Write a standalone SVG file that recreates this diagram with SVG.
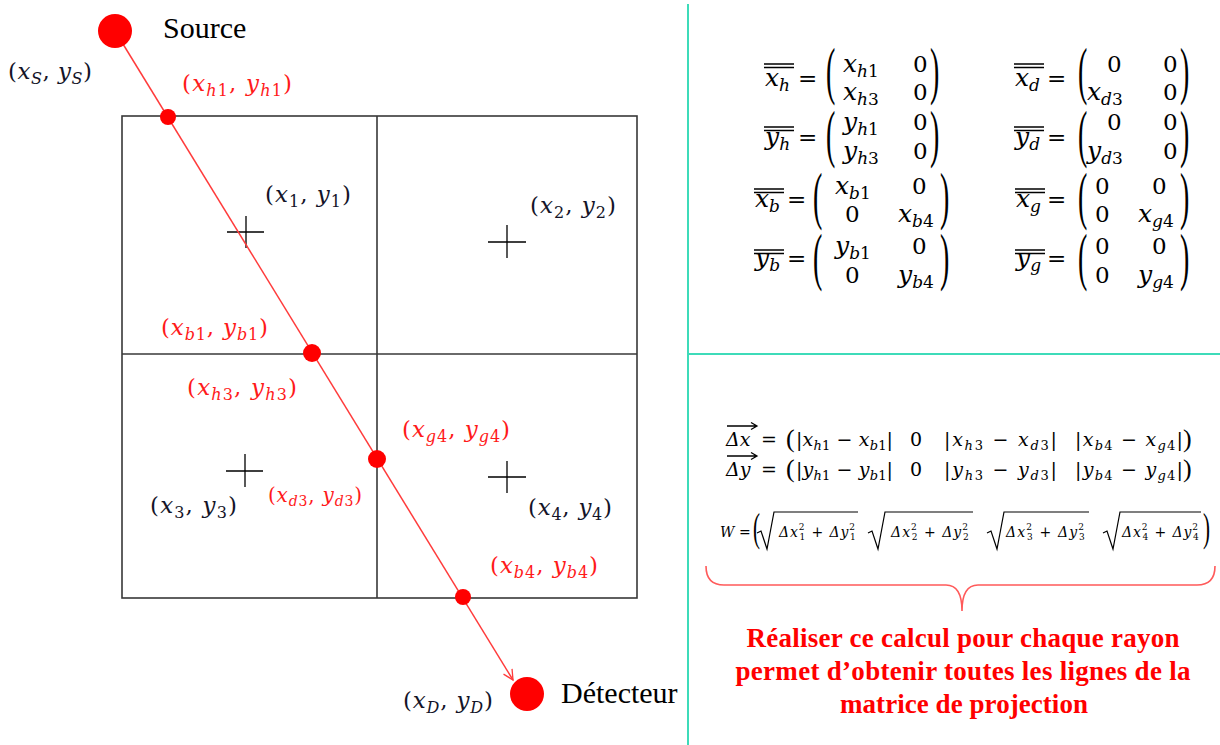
<svg xmlns="http://www.w3.org/2000/svg" width="1220" height="745" viewBox="0 0 1220 745">
<defs>
<style>
.m{font-family:"DejaVu Serif",serif;font-style:italic;font-size:23px}
.sb{font-size:16px}
.blk{fill:#141428}
.red{fill:#ff1a1a}
.mm{font-family:"DejaVu Serif",serif;font-style:italic;font-size:25px;fill:#000}
.ms{font-size:17px}
.mu{font-family:"DejaVu Serif",serif;font-size:23px;fill:#000}
.bp{font-family:"Liberation Serif",serif;font-size:28px;fill:#000}
.bar{stroke:#000;stroke-width:1.3;fill:none}
.d{font-family:"DejaVu Serif",serif;font-style:italic;font-size:19px;fill:#000}
.ds{font-size:13px}
.w{font-family:"DejaVu Serif",serif;font-style:italic;font-size:14px;fill:#000}
.sup{font-size:9px;font-style:normal}
.rad{stroke:#000;stroke-width:1.2;fill:none}
.grid{stroke:#383838;stroke-width:1.6;fill:none}
.cross{stroke:#000;stroke-width:1.3;fill:none}
.dot{fill:#ff0000}
.lbl{font-family:"Liberation Serif",serif;font-size:30px;fill:#000}
.note{font-family:"Liberation Serif",serif;font-weight:bold;font-size:27px;fill:#ff0000}
.sep{stroke:#3ddbb9;stroke-width:2;fill:none}
.u{font-style:normal}
</style>
<marker id="arr" markerUnits="userSpaceOnUse" markerWidth="14" markerHeight="14" refX="11" refY="6" orient="auto">
<path d="M1,1 L11,6 L1,11" fill="none" stroke="#ff3b3b" stroke-width="1.3"/>
</marker>
</defs>
<rect width="1220" height="745" fill="#fff"/>

<g id="separators">
<line class="sep" x1="688" y1="4" x2="688" y2="745"/>
<line class="sep" x1="688" y1="354" x2="1220" y2="354"/>
</g>

<g id="grid">
<rect class="grid" x="122" y="116" width="515" height="482"/>
<line class="grid" x1="377" y1="116" x2="377" y2="598"/>
<line class="grid" x1="122" y1="354" x2="637" y2="354"/>
<path class="cross" d="M227,232H264M246,216V248"/>
<path class="cross" d="M488,242H526M507,225V258"/>
<path class="cross" d="M226,471H263M245,454V487"/>
<path class="cross" d="M488,477H526M507,461V493"/>
</g>

<g id="connectors">
<line x1="115" y1="31" x2="513" y2="680" stroke="#ff3b3b" stroke-width="1.5" marker-end="url(#arr)"/>
</g>

<g id="source">
<circle class="dot" cx="115" cy="31" r="17"/>
<text class="lbl" x="163" y="38">Source</text>
<text class="m blk" x="8" y="79" textLength="84" lengthAdjust="spacing"><tspan class="u">(</tspan>x<tspan class="sb" dy="5">S</tspan><tspan class="u" dy="-5">, </tspan>y<tspan class="sb" dy="5">S</tspan><tspan class="u" dy="-5">)</tspan></text>
</g>

<g id="detector">
<circle class="dot" cx="527" cy="694" r="17"/>
<text class="lbl" x="561" y="703">Détecteur</text>
<text class="m blk" x="403" y="708" textLength="90" lengthAdjust="spacing"><tspan class="u">(</tspan>x<tspan class="sb" dy="5">D</tspan><tspan class="u" dy="-5">, </tspan>y<tspan class="sb" dy="5">D</tspan><tspan class="u" dy="-5">)</tspan></text>
</g>

<g id="points">
<circle class="dot" cx="168" cy="117" r="8"/>
<circle class="dot" cx="312" cy="353" r="9"/>
<circle class="dot" cx="377" cy="459" r="9"/>
<circle class="dot" cx="463" cy="597" r="8"/>
<text class="m red" x="182" y="91" textLength="110" lengthAdjust="spacing"><tspan class="u">(</tspan>x<tspan class="sb" dy="5">h<tspan class="u">1</tspan></tspan><tspan class="u" dy="-5">, </tspan>y<tspan class="sb" dy="5">h<tspan class="u">1</tspan></tspan><tspan class="u" dy="-5">)</tspan></text>
<text class="m red" x="161" y="335" textLength="107" lengthAdjust="spacing"><tspan class="u">(</tspan>x<tspan class="sb" dy="5">b<tspan class="u">1</tspan></tspan><tspan class="u" dy="-5">, </tspan>y<tspan class="sb" dy="5">b<tspan class="u">1</tspan></tspan><tspan class="u" dy="-5">)</tspan></text>
<text class="m red" x="187" y="395" textLength="110" lengthAdjust="spacing"><tspan class="u">(</tspan>x<tspan class="sb" dy="5">h<tspan class="u">3</tspan></tspan><tspan class="u" dy="-5">, </tspan>y<tspan class="sb" dy="5">h<tspan class="u">3</tspan></tspan><tspan class="u" dy="-5">)</tspan></text>
<text class="m red" x="402" y="437" textLength="108" lengthAdjust="spacing"><tspan class="u">(</tspan>x<tspan class="sb" dy="5">g<tspan class="u">4</tspan></tspan><tspan class="u" dy="-5">, </tspan>y<tspan class="sb" dy="5">g<tspan class="u">4</tspan></tspan><tspan class="u" dy="-5">)</tspan></text>
<text class="m red" x="268" y="502" style="font-size:20px" textLength="94" lengthAdjust="spacing"><tspan class="u">(</tspan>x<tspan style="font-size:14px" dy="4">d<tspan class="u">3</tspan></tspan><tspan class="u" dy="-4">, </tspan>y<tspan style="font-size:14px" dy="4">d<tspan class="u">3</tspan></tspan><tspan class="u" dy="-4">)</tspan></text>
<text class="m red" x="490" y="573" textLength="108" lengthAdjust="spacing"><tspan class="u">(</tspan>x<tspan class="sb" dy="5">b<tspan class="u">4</tspan></tspan><tspan class="u" dy="-5">, </tspan>y<tspan class="sb" dy="5">b<tspan class="u">4</tspan></tspan><tspan class="u" dy="-5">)</tspan></text>
</g>

<g id="pixels">
<text class="m blk" x="265" y="202" textLength="86" lengthAdjust="spacing"><tspan class="u">(</tspan>x<tspan class="sb u" dy="5">1</tspan><tspan class="u" dy="-5">, </tspan>y<tspan class="sb u" dy="5">1</tspan><tspan class="u" dy="-5">)</tspan></text>
<text class="m blk" x="530" y="213" textLength="86" lengthAdjust="spacing"><tspan class="u">(</tspan>x<tspan class="sb u" dy="5">2</tspan><tspan class="u" dy="-5">, </tspan>y<tspan class="sb u" dy="5">2</tspan><tspan class="u" dy="-5">)</tspan></text>
<text class="m blk" x="150" y="513" textLength="87" lengthAdjust="spacing"><tspan class="u">(</tspan>x<tspan class="sb u" dy="5">3</tspan><tspan class="u" dy="-5">, </tspan>y<tspan class="sb u" dy="5">3</tspan><tspan class="u" dy="-5">)</tspan></text>
<text class="m blk" x="528" y="515" textLength="84" lengthAdjust="spacing"><tspan class="u">(</tspan>x<tspan class="sb u" dy="5">4</tspan><tspan class="u" dy="-5">, </tspan>y<tspan class="sb u" dy="5">4</tspan><tspan class="u" dy="-5">)</tspan></text>
</g>

<g id="matrices">
<!-- x_h -->
<text class="mm" x="765" y="86">x<tspan class="ms" dy="5">h</tspan></text>
<path class="bar" d="M764,64H794M764,67.5H794"/>
<text class="mu" x="798" y="86">=</text>
<text class="bp" transform="translate(826,92) scale(1,2.3)">(</text>
<text class="mm" x="843" y="72">x<tspan class="ms" dy="5">h<tspan class="u">1</tspan></tspan></text>
<text class="mu" x="913" y="72">0</text>
<text class="mm" x="843" y="100">x<tspan class="ms" dy="5">h<tspan class="u">3</tspan></tspan></text>
<text class="mu" x="913" y="100">0</text>
<text class="bp" transform="translate(930,92) scale(1,2.3)">)</text>
<!-- y_h -->
<text class="mm" x="765" y="145">y<tspan class="ms" dy="5">h</tspan></text>
<path class="bar" d="M764,127H794M764,130.5H794"/>
<text class="mu" x="798" y="145">=</text>
<text class="bp" transform="translate(826,155) scale(1,2.3)">(</text>
<text class="mm" x="843" y="130">y<tspan class="ms" dy="5">h<tspan class="u">1</tspan></tspan></text>
<text class="mu" x="913" y="130">0</text>
<text class="mm" x="843" y="159">y<tspan class="ms" dy="5">h<tspan class="u">3</tspan></tspan></text>
<text class="mu" x="913" y="159">0</text>
<text class="bp" transform="translate(930,155) scale(1,2.3)">)</text>
<!-- x_b -->
<text class="mm" x="755" y="207">x<tspan class="ms" dy="5">b</tspan></text>
<path class="bar" d="M754,189H784M754,192.5H784"/>
<text class="mu" x="787" y="207">=</text>
<text class="bp" transform="translate(813,217) scale(1,2.3)">(</text>
<text class="mm" x="835" y="194">x<tspan class="ms" dy="5">b<tspan class="u">1</tspan></tspan></text>
<text class="mu" x="912" y="194">0</text>
<text class="mu" x="845" y="222">0</text>
<text class="mm" x="898" y="222">x<tspan class="ms" dy="5">b<tspan class="u">4</tspan></tspan></text>
<text class="bp" transform="translate(940,217) scale(1,2.3)">)</text>
<!-- y_b -->
<text class="mm" x="755" y="266">y<tspan class="ms" dy="5">b</tspan></text>
<path class="bar" d="M754,250H784M754,253.5H784"/>
<text class="mu" x="787" y="266">=</text>
<text class="bp" transform="translate(813,278) scale(1,2.3)">(</text>
<text class="mm" x="835" y="254">y<tspan class="ms" dy="5">b<tspan class="u">1</tspan></tspan></text>
<text class="mu" x="912" y="254">0</text>
<text class="mu" x="845" y="283">0</text>
<text class="mm" x="898" y="283">y<tspan class="ms" dy="5">b<tspan class="u">4</tspan></tspan></text>
<text class="bp" transform="translate(940,278) scale(1,2.3)">)</text>
<!-- x_d -->
<text class="mm" x="1015" y="86">x<tspan class="ms" dy="5">d</tspan></text>
<path class="bar" d="M1014,64H1044M1014,67.5H1044"/>
<text class="mu" x="1047" y="86">=</text>
<text class="bp" transform="translate(1078,92) scale(1,2.3)">(</text>
<text class="mu" x="1107" y="72">0</text>
<text class="mu" x="1163" y="72">0</text>
<text class="mm" x="1087" y="100">x<tspan class="ms" dy="5">d<tspan class="u">3</tspan></tspan></text>
<text class="mu" x="1163" y="100">0</text>
<text class="bp" transform="translate(1180,92) scale(1,2.3)">)</text>
<!-- y_d -->
<text class="mm" x="1015" y="145">y<tspan class="ms" dy="5">d</tspan></text>
<path class="bar" d="M1014,127H1044M1014,130.5H1044"/>
<text class="mu" x="1047" y="145">=</text>
<text class="bp" transform="translate(1078,155) scale(1,2.3)">(</text>
<text class="mu" x="1107" y="130">0</text>
<text class="mu" x="1163" y="130">0</text>
<text class="mm" x="1087" y="159">y<tspan class="ms" dy="5">d<tspan class="u">3</tspan></tspan></text>
<text class="mu" x="1163" y="159">0</text>
<text class="bp" transform="translate(1180,155) scale(1,2.3)">)</text>
<!-- x_g -->
<text class="mm" x="1016" y="207">x<tspan class="ms" dy="5">g</tspan></text>
<path class="bar" d="M1015,189H1045M1015,192.5H1045"/>
<text class="mu" x="1047" y="207">=</text>
<text class="bp" transform="translate(1078,217) scale(1,2.3)">(</text>
<text class="mu" x="1095" y="194">0</text>
<text class="mu" x="1152" y="194">0</text>
<text class="mu" x="1095" y="222">0</text>
<text class="mm" x="1138" y="222">x<tspan class="ms" dy="5">g<tspan class="u">4</tspan></tspan></text>
<text class="bp" transform="translate(1180,217) scale(1,2.3)">)</text>
<!-- y_g -->
<text class="mm" x="1016" y="266">y<tspan class="ms" dy="5">g</tspan></text>
<path class="bar" d="M1015,250H1045M1015,253.5H1045"/>
<text class="mu" x="1047" y="266">=</text>
<text class="bp" transform="translate(1078,278) scale(1,2.3)">(</text>
<text class="mu" x="1095" y="254">0</text>
<text class="mu" x="1152" y="254">0</text>
<text class="mu" x="1095" y="283">0</text>
<text class="mm" x="1138" y="283">y<tspan class="ms" dy="5">g<tspan class="u">4</tspan></tspan></text>
<text class="bp" transform="translate(1180,278) scale(1,2.3)">)</text>
</g>

<g id="formulas">
<!-- delta x -->
<text class="d" x="726" y="446">Δx</text>
<path class="bar" d="M727,426H757M751,422.5L757,426L751,429.5"/>
<text class="d u" x="761" y="446">=</text>
<text class="bp" x="786" y="447" style="font-size:26px">(</text>
<text class="d" x="796" y="446" textLength="97" lengthAdjust="spacing"><tspan class="u">|</tspan>x<tspan class="ds" dy="4">h<tspan class="u">1</tspan></tspan><tspan class="u" dy="-4"> − </tspan>x<tspan class="ds" dy="4">b<tspan class="u">1</tspan></tspan><tspan class="u" dy="-4">|</tspan></text>
<text class="d u" x="910" y="446">0</text>
<text class="d" x="944" y="446" textLength="113" lengthAdjust="spacing"><tspan class="u">|</tspan>x<tspan class="ds" dy="4">h<tspan class="u">3</tspan></tspan><tspan class="u" dy="-4"> − </tspan>x<tspan class="ds" dy="4">d<tspan class="u">3</tspan></tspan><tspan class="u" dy="-4">|</tspan></text>
<text class="d" x="1075" y="446" textLength="108" lengthAdjust="spacing"><tspan class="u">|</tspan>x<tspan class="ds" dy="4">b<tspan class="u">4</tspan></tspan><tspan class="u" dy="-4"> − </tspan>x<tspan class="ds" dy="4">g<tspan class="u">4</tspan></tspan><tspan class="u" dy="-4">|</tspan></text>
<text class="bp" x="1183" y="447" style="font-size:26px">)</text>
<!-- delta y -->
<text class="d" x="726" y="476">Δy</text>
<path class="bar" d="M727,456H757M751,452.5L757,456L751,459.5"/>
<text class="d u" x="761" y="476">=</text>
<text class="bp" x="786" y="477" style="font-size:26px">(</text>
<text class="d" x="796" y="476" textLength="97" lengthAdjust="spacing"><tspan class="u">|</tspan>y<tspan class="ds" dy="4">h<tspan class="u">1</tspan></tspan><tspan class="u" dy="-4"> − </tspan>y<tspan class="ds" dy="4">b<tspan class="u">1</tspan></tspan><tspan class="u" dy="-4">|</tspan></text>
<text class="d u" x="910" y="476">0</text>
<text class="d" x="944" y="476" textLength="113" lengthAdjust="spacing"><tspan class="u">|</tspan>y<tspan class="ds" dy="4">h<tspan class="u">3</tspan></tspan><tspan class="u" dy="-4"> − </tspan>y<tspan class="ds" dy="4">d<tspan class="u">3</tspan></tspan><tspan class="u" dy="-4">|</tspan></text>
<text class="d" x="1075" y="476" textLength="108" lengthAdjust="spacing"><tspan class="u">|</tspan>y<tspan class="ds" dy="4">b<tspan class="u">4</tspan></tspan><tspan class="u" dy="-4"> − </tspan>y<tspan class="ds" dy="4">g<tspan class="u">4</tspan></tspan><tspan class="u" dy="-4">|</tspan></text>
<text class="bp" x="1183" y="477" style="font-size:26px">)</text>
<!-- W -->
<text class="w" x="720" y="537">W</text>
<text class="w u" x="739" y="537">=</text>
<text class="bp" transform="translate(753,541) scale(1,1.9)" style="font-size:21px">(</text>
<polyline class="rad" points="757,533 761,531 767,549 774,512 858,512"/>
<text class="w" x="779" y="537" textLength="77" lengthAdjust="spacing">Δx<tspan class="sup" dy="-7">2</tspan><tspan class="sup" dx="-6" dy="10">1</tspan><tspan class="u" dy="-3"> + </tspan>Δy<tspan class="sup" dy="-7">2</tspan><tspan class="sup" dx="-6" dy="10">1</tspan></text>
<polyline class="rad" points="868,533 872,531 878,549 885,512 973,512"/>
<text class="w" x="891" y="537" textLength="78" lengthAdjust="spacing">Δx<tspan class="sup" dy="-7">2</tspan><tspan class="sup" dx="-6" dy="10">2</tspan><tspan class="u" dy="-3"> + </tspan>Δy<tspan class="sup" dy="-7">2</tspan><tspan class="sup" dx="-6" dy="10">2</tspan></text>
<polyline class="rad" points="987,533 991,531 997,549 1004,512 1089,512"/>
<text class="w" x="1006" y="537" textLength="79" lengthAdjust="spacing">Δx<tspan class="sup" dy="-7">2</tspan><tspan class="sup" dx="-6" dy="10">3</tspan><tspan class="u" dy="-3"> + </tspan>Δy<tspan class="sup" dy="-7">2</tspan><tspan class="sup" dx="-6" dy="10">3</tspan></text>
<polyline class="rad" points="1103,533 1107,531 1113,549 1120,512 1201,512"/>
<text class="w" x="1122" y="537" textLength="77" lengthAdjust="spacing">Δx<tspan class="sup" dy="-7">2</tspan><tspan class="sup" dx="-6" dy="10">4</tspan><tspan class="u" dy="-3"> + </tspan>Δy<tspan class="sup" dy="-7">2</tspan><tspan class="sup" dx="-6" dy="10">4</tspan></text>
<text class="bp" transform="translate(1203,541) scale(1,1.9)" style="font-size:21px">)</text>
</g>

<g id="brace">
<path d="M706,566 Q706,585 724,585 L946,585 Q962,585 962,611 Q962,585 978,585 L1197,585 Q1215,585 1215,566" fill="none" stroke="#ff5a5a" stroke-width="1.6"/>
</g>

<g id="note">
<text class="note" x="963" y="647" text-anchor="middle" textLength="433" lengthAdjust="spacing">Réaliser ce calcul pour chaque rayon</text>
<text class="note" x="963" y="680" text-anchor="middle" textLength="455" lengthAdjust="spacing">permet d’obtenir toutes les lignes de la</text>
<text class="note" x="964" y="713" text-anchor="middle" textLength="248" lengthAdjust="spacing">matrice de projection</text>
</g>
</svg>
